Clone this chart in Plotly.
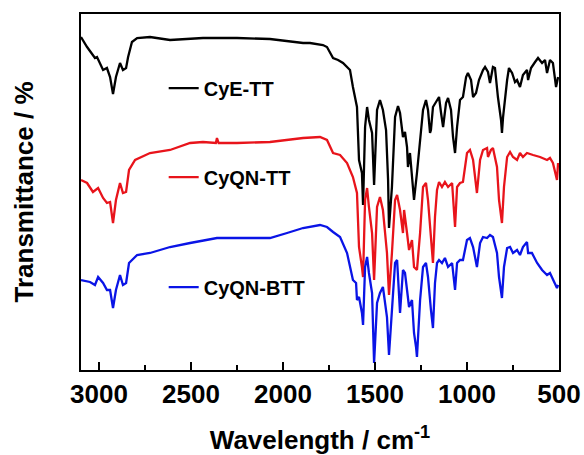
import plotly.graph_objects as go

# Wavenumber (cm^-1), transmittance (arbitrary units, offset for display)
cye_tt = [(3098,333),(3065,323),(3022,312),(3011,313),(2978,300),(2957,302),(2940,293),(2924,276),(2908,293),(2886,307),(2870,300),(2853,302),(2842,313),(2821,328),(2793,332),(2723,333),(2614,330),(2435,332),(2250,332),(2071,331),(1891,327),(1853,327),(1783,325),(1761,323),(1728,312),(1701,310),(1674,307),(1636,300),(1620,283),(1598,263),(1587,210),(1571,197),(1565,165),(1554,243),(1543,263),(1533,250),(1516,237),(1505,185),(1489,260),(1473,270),(1457,260),(1440,240),(1429,190),(1424,142),(1408,183),(1391,253),(1375,264),(1364,257),(1348,233),(1337,238),(1326,223),(1321,203),(1310,217),(1299,197),(1288,170),(1272,197),(1255,230),(1239,260),(1223,270),(1212,260),(1201,237),(1196,240),(1185,263),(1163,270),(1152,273),(1141,257),(1130,243),(1114,267),(1103,272),(1087,260),(1076,233),(1065,217),(1054,243),(1038,270),(1022,273),(1005,293),(995,297),(978,290),(967,273),(951,277),(935,290),(913,300),(902,303),(886,298),(875,287),(859,303),(848,302),(832,273),(815,250),(810,237),(804,253),(782,290),(772,302),(755,297),(739,288),(728,290),(712,283),(696,295),(674,300),(668,290),(652,302),(630,308),(614,312),(592,307),(576,310),(565,297),(549,310),(533,307),(516,283),(505,293)]

cyqn_tt = [(3098,190),(3065,187),(3033,178),(3005,182),(2978,172),(2957,167),(2940,168),(2924,147),(2908,170),(2886,187),(2870,177),(2853,178),(2837,200),(2804,210),(2723,217),(2614,220),(2505,227),(2435,228),(2365,227),(2359,232),(2350,227),(2250,227),(2071,228),(1891,232),(1799,233),(1761,230),(1728,217),(1690,215),(1652,207),(1620,193),(1598,177),(1587,123),(1571,103),(1565,93),(1554,170),(1543,182),(1533,163),(1516,137),(1505,90),(1489,163),(1473,173),(1457,160),(1435,117),(1424,75),(1408,117),(1391,170),(1380,175),(1364,160),(1348,137),(1342,160),(1326,137),(1315,120),(1299,130),(1288,103),(1272,100),(1255,137),(1239,183),(1223,187),(1212,170),(1196,137),(1185,107),(1174,153),(1163,180),(1152,188),(1136,183),(1120,188),(1103,183),(1081,187),(1076,170),(1065,143),(1054,183),(1038,187),(1022,188),(1000,217),(984,220),(967,210),(946,177),(929,210),(913,220),(891,222),(886,213),(870,220),(859,222),(837,203),(826,170),(810,147),(799,183),(782,213),(766,218),(750,213),(728,210),(712,217),(696,213),(674,217),(641,215),(603,213),(565,210),(549,212),(533,207),(511,190),(505,207)]

cyqn_btt = [(3098,90),(3049,88),(3022,85),(3005,93),(2978,87),(2957,80),(2940,80),(2924,62),(2908,80),(2886,95),(2870,85),(2853,87),(2837,107),(2793,115),(2723,117),(2614,123),(2505,127),(2359,132),(2250,132),(2071,132),(1978,137),(1891,142),(1799,145),(1761,143),(1728,138),(1690,133),(1652,117),(1620,90),(1603,87),(1598,70),(1587,73),(1571,57),(1565,45),(1554,103),(1543,113),(1533,97),(1516,77),(1505,7),(1489,67),(1473,77),(1457,83),(1435,53),(1424,15),(1408,57),(1391,107),(1380,110),(1364,57),(1348,100),(1337,97),(1326,80),(1315,63),(1299,70),(1288,37),(1277,23),(1272,13),(1255,70),(1239,103),(1223,107),(1212,93),(1196,60),(1185,42),(1174,87),(1163,107),(1152,110),(1136,107),(1120,112),(1103,103),(1081,107),(1076,97),(1065,80),(1054,107),(1038,110),(1022,110),(1000,130),(984,132),(967,123),(946,103),(929,127),(913,133),(891,132),(875,135),(859,133),(837,117),(826,93),(810,72),(799,103),(782,122),(766,123),(750,117),(728,120),(712,115),(696,123),(674,128),(668,117),(647,117),(619,107),(592,100),(565,95),(549,97),(533,90),(511,82),(505,85)]

series_names = ["CyE-TT", "CyQN-TT", "CyQN-BTT"]
series_colors = ["#000000", "#e8141b", "#0a14e6"]
series_data = [cye_tt, cyqn_tt, cyqn_btt]
legend_ids = ["legend", "legend2", "legend3"]

FONT = "Liberation Sans, Arial, sans-serif"

fig = go.Figure()
for name, color, data, lg in zip(series_names, series_colors, series_data, legend_ids):
    xs = [p[0] for p in data]
    ys = [p[1] for p in data]
    fig.add_trace(go.Scatter(x=xs, y=ys, mode="lines", name=name,
                             line=dict(color=color, width=2.3), legend=lg))

def leg(y):
    return dict(x=0.173, y=y, xanchor="left", yanchor="middle",
                bgcolor="rgba(0,0,0,0)", borderwidth=0,
                font=dict(family=FONT, size=20, color="black", weight="bold"))

fig.update_layout(
    width=584, height=455,
    margin=dict(l=81, r=25, t=14, b=85),
    paper_bgcolor="white", plot_bgcolor="white",
    showlegend=True,
    legend=leg(0.792), legend2=leg(0.542), legend3=leg(0.233),
    font=dict(family=FONT, color="black"),
)
fig.update_xaxes(
    range=[3098, 500], showgrid=False, zeroline=False, automargin=False,
    showline=True, linewidth=2, linecolor="black", mirror=True,
    ticks="inside", ticklen=8, tickwidth=2, tickcolor="black",
    tick0=500, dtick=500, ticklabelstandoff=0,
    minor=dict(ticks="inside", ticklen=5, tickwidth=2, tickcolor="black", dtick=250),
    tickfont=dict(family=FONT, size=26, color="black", weight="bold"),
    title=dict(text="Wavelength / cm<sup>-1</sup>", standoff=27,
               font=dict(family=FONT, size=26, color="black", weight="bold")),
)
fig.update_yaxes(
    range=[0, 356], showgrid=False, zeroline=False, automargin=False,
    showline=True, linewidth=2, linecolor="black", mirror=True,
    ticks="", showticklabels=False,
    title=dict(text="Transmittance / %", standoff=38,
               font=dict(family=FONT, size=26, color="black", weight="bold")),
)
fig.write_html("out.html")
